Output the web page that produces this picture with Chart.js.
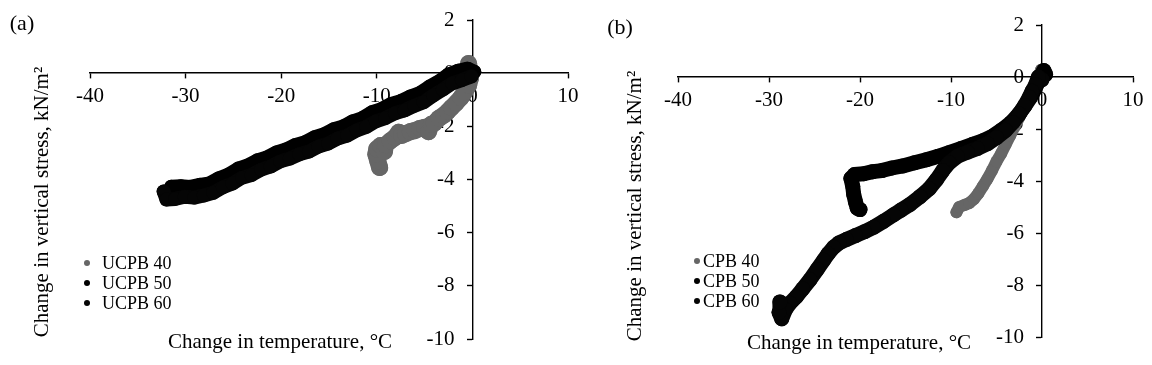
<!DOCTYPE html>
<html>

<head>
    <title>Vertical stress vs temperature</title>
    <script src="https://cdn.jsdelivr.net/npm/chart.js"></script>
    <style>
        body {
            margin: 0;
            width: 1152px;
            height: 365px;
            overflow: hidden;
            position: relative;
            background: #fff;
            font-family: "Liberation Serif", "Times New Roman", serif;
            color: #000;
        }

        canvas {
            position: absolute;
            top: 0;
        }

        #chart-a { left: 0; }
        #chart-b { left: 576px; }

        .lbl {
            position: absolute;
            white-space: nowrap;
            font-size: 21px;
            transform: translate(-50%, -50%);
        }

        .ytitle {
            transform: translate(-50%, -50%) rotate(-90deg);
        }

        .legend {
            position: absolute;
            font-size: 18px;
            line-height: 20px;
        }

        .legend div {
            white-space: nowrap;
        }

        .legend span.dot {
            display: inline-block;
            width: 6px;
            height: 6px;
            border-radius: 50%;
            vertical-align: middle;
            margin-top: -3px;
        }
    </style>
</head>

<body>
    <canvas id="chart-a" width="600" height="365"></canvas>
    <canvas id="chart-b" width="600" height="365"></canvas>

    <div class="lbl" style="left:22px; top:23px; font-size:22px;">(a)</div>
    <div class="lbl" style="left:620px; top:27px; font-size:22px;">(b)</div>

    <div class="lbl ytitle" style="left:41px; top:202px;">Change in vertical stress, kN/m²</div>
    <div class="lbl ytitle" style="left:634px; top:206px;">Change in vertical stress, kN/m²</div>

    <div class="lbl" style="left:280px; top:341px;">Change in temperature, °C</div>
    <div class="lbl" style="left:859px; top:342px;">Change in temperature, °C</div>

    <div class="legend" id="legend-a" style="left:84px; top:253px;"></div>
    <div class="legend" id="legend-b" style="left:694px; top:251px;"></div>

    <script>
        // tick values shared by both panels
        const xTicks = [-40, -30, -20, -10, 0, 10];
        const yTicks = [-10, -8, -6, -4, -2, 0, 2];

        const labelsA = ['UCPB 40', 'UCPB 50', 'UCPB 60'];
        const labelsB = ['CPB 40', 'CPB 50', 'CPB 60'];
        const colors = ['#666666', '#000000', '#050505'];

        // (a) readings [temperature change, stress change]
        const ucpb40 = [[-9.7, -3.55], [-9.9, -3.3], [-10.1, -3.05], [-10.0, -2.85], [-9.6, -2.72], [-9.2, -2.95],
            [-9.1, -2.7], [-8.6, -2.55], [-8.1, -2.42], [-7.7, -2.22], [-7.4, -2.34], [-7.0, -2.28], [-6.5, -2.2],
            [-6.0, -2.16], [-5.5, -2.08], [-5.0, -2.04], [-4.6, -2.2], [-4.3, -1.92], [-4.0, -1.88], [-3.5, -1.7],
            [-3.0, -1.58], [-2.6, -1.45], [-2.2, -1.3], [-1.7, -1.12], [-1.2, -0.92], [-0.8, -0.7], [-0.4, -0.45],
            [-0.2, -0.18], [-0.3, 0.12], [-0.4, 0.36]];

        const ucpb50 = [[-31.5, -4.27], [-30.5, -4.25], [-29.5, -4.28], [-28.5, -4.2], [-27.5, -4.15], [-26.5, -3.95],
            [-25.5, -3.81], [-24.5, -3.59], [-23.5, -3.47], [-22.5, -3.28], [-21.5, -3.17], [-20.5, -2.98],
            [-19.5, -2.87], [-18.5, -2.7], [-17.5, -2.6], [-16.5, -2.41], [-15.5, -2.3], [-14.5, -2.11],
            [-13.5, -2.0], [-12.5, -1.81], [-11.5, -1.69], [-10.5, -1.47], [-9.5, -1.35], [-8.5, -1.16],
            [-7.5, -1.05], [-6.5, -0.88], [-5.5, -0.75], [-4.5, -0.51], [-3.5, -0.31], [-2.5, -0.05], [-1.5, 0.09],
            [-0.5, 0.17], [0.2, 0.05]];

        const ucpb60 = [[-32.3, -4.45], [-32.0, -4.75], [-31.1, -4.73], [-30.1, -4.65], [-29.1, -4.68], [-28.1, -4.6],
            [-27.1, -4.5], [-26.1, -4.29], [-25.1, -4.15], [-24.1, -3.93], [-23.1, -3.83], [-22.1, -3.63],
            [-21.1, -3.51], [-20.1, -3.32], [-19.1, -3.21], [-18.1, -3.05], [-17.1, -2.95], [-16.1, -2.76],
            [-15.1, -2.65], [-14.1, -2.46], [-13.1, -2.35], [-12.1, -2.15], [-11.1, -2.02], [-10.1, -1.81],
            [-9.1, -1.69], [-8.1, -1.51], [-7.1, -1.4], [-6.1, -1.23], [-5.1, -1.09], [-4.1, -0.84], [-3.1, -0.62],
            [-2.1, -0.38], [-1.1, -0.26], [-0.1, -0.12]];

        // (b) readings
        const cpb40 = [[-9.4, -5.2], [-9.1, -5.0], [-8.5, -4.92], [-8.0, -4.85], [-7.5, -4.7], [-7.0, -4.48],
            [-6.5, -4.2], [-6.0, -3.92], [-5.5, -3.6], [-5.0, -3.25], [-4.5, -2.95], [-4.0, -2.6], [-3.5, -2.25],
            [-3.0, -1.9], [-2.5, -1.55], [-2.0, -1.2], [-1.5, -0.88], [-1.0, -0.55], [-0.6, -0.25], [-0.3, 0.05],
            [-0.1, 0.28]];

        const cpb50 = [[0.4, 0.1], [0.2, 0.25], [-0.1, 0.0], [-0.5, -0.25], [-0.8, -0.48], [-1.3, -0.8], [-1.9, -1.12],
            [-2.6, -1.45], [-3.4, -1.75], [-4.4, -2.03], [-5.4, -2.27], [-6.5, -2.45], [-7.6, -2.59], [-8.9, -2.75],
            [-10.2, -2.91], [-11.4, -3.05], [-12.7, -3.18], [-14.0, -3.3], [-15.3, -3.42], [-16.5, -3.5], [-17.6, -3.6],
            [-18.6, -3.64], [-19.6, -3.72], [-20.6, -3.75], [-21.0, -3.9], [-20.8, -4.2], [-20.7, -4.5], [-20.5, -4.8],
            [-20.3, -5.05], [-20.0, -5.1]];

        const cpb60 = [[0.0, -0.1], [-0.4, 0.0], [-0.7, -0.3], [-1.1, -0.55], [-1.4, -0.78], [-1.9, -1.1], [-2.5, -1.42],
            [-3.2, -1.75], [-4.0, -2.05], [-5.0, -2.33], [-6.0, -2.57], [-7.1, -2.75], [-8.2, -2.89], [-9.3, -3.05],
            [-10.2, -3.3], [-10.9, -3.6], [-11.6, -3.95], [-12.4, -4.3], [-13.4, -4.6], [-14.5, -4.9], [-15.5, -5.12],
            [-16.3, -5.3], [-17.4, -5.55], [-18.5, -5.78], [-19.5, -5.95], [-20.5, -6.1], [-21.5, -6.25], [-22.3, -6.38],
            [-22.9, -6.55], [-23.5, -6.8], [-24.0, -7.05], [-24.7, -7.4], [-25.5, -7.8], [-26.3, -8.15], [-27.0, -8.45],
            [-27.7, -8.7], [-28.2, -8.95], [-28.6, -9.3], [-28.9, -9.05], [-28.8, -8.65]];

        const fontFamily = '"Liberation Serif", "Times New Roman", serif';

        // y tick labels sit left of the axis crossing at x = 0
        const yLabelPlugin = {
            id: 'yLabels',
            beforeDatasetsDraw(chart) {
                const ctx = chart.ctx;
                const x0 = chart.scales.x.getPixelForValue(0) - 18;
                ctx.save();
                ctx.font = '21px ' + fontFamily;
                ctx.fillStyle = '#000';
                ctx.textAlign = 'right';
                ctx.textBaseline = 'middle';
                yTicks.forEach(v => ctx.fillText(String(v), x0, chart.scales.y.getPixelForValue(v)));
                ctx.restore();
            }
        };

        function makeSet(label, pts, color, width, order) {
            return {
                label: label,
                data: pts.map(p => ({ x: p[0], y: p[1] })),
                showLine: true,
                borderColor: color,
                backgroundColor: color,
                borderWidth: width,
                borderJoinStyle: 'round',
                borderCapStyle: 'round',
                pointRadius: width / 2,
                pointBorderWidth: 0,
                order: order
            };
        }

        function axisOpts(ticks, pos, min, max, showLabels) {
            return {
                type: 'linear',
                min: min,
                max: max,
                position: pos,
                border: { color: '#000', width: 1.4 },
                grid: { drawOnChartArea: false, color: '#000', tickLength: 5, tickWidth: 1.4 },
                ticks: { display: showLabels, color: '#000', padding: 6, font: { family: fontFamily, size: 21 } },
                afterBuildTicks: s => { s.ticks = ticks.map(v => ({ value: v })); }
            };
        }

        function makeChart(id, datasets, padding) {
            return new Chart(document.getElementById(id), {
                type: 'scatter',
                data: { datasets: datasets },
                options: {
                    responsive: false,
                    animation: false,
                    layout: { padding: padding },
                    plugins: { legend: { display: false }, tooltip: { enabled: false } },
                    scales: {
                        x: axisOpts(xTicks, { y: 0 }, -40, 10, true),
                        y: axisOpts(yTicks, { x: 0 }, -10, 2, false)
                    }
                },
                plugins: [yLabelPlugin]
            });
        }

        function makeLegend(id, labels, gap) {
            const box = document.getElementById(id);
            labels.forEach((name, i) => {
                const row = document.createElement('div');
                row.innerHTML = '<span class="dot" style="background:' + colors[i] + ';margin-right:' + gap + 'px"></span>' + name;
                box.appendChild(row);
            });
        }

        makeChart('chart-a', [
            makeSet(labelsA[0], ucpb40, colors[0], 17, 3),
            makeSet(labelsA[1], ucpb50, colors[1], 14, 2),
            makeSet(labelsA[2], ucpb60, colors[2], 14, 1)
        ], { left: 90, right: 32, top: 20, bottom: 26 });

        makeChart('chart-b', [
            makeSet(labelsB[0], cpb40, colors[0], 12, 3),
            makeSet(labelsB[1], cpb50, colors[1], 15, 2),
            makeSet(labelsB[2], cpb60, colors[2], 15, 1)
        ], { left: 102, right: 43, top: 25, bottom: 28 });

        makeLegend('legend-a', labelsA, 12);
        makeLegend('legend-b', labelsB, 3);
    </script>
</body>

</html>
